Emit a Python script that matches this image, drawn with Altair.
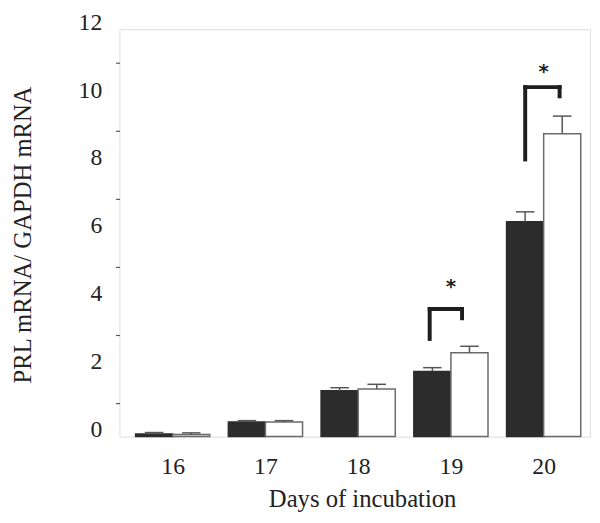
import altair as alt
import pandas as pd

# ---- data ----
days = [16, 17, 18, 19, 20]
dark_mean = [0.08, 0.43, 1.35, 1.92, 6.33]
dark_upper = [0.12, 0.47, 1.44, 2.03, 6.62]
light_mean = [0.06, 0.43, 1.40, 2.47, 8.92]
light_upper = [0.11, 0.47, 1.54, 2.66, 9.44]

y_values = list(range(0, 13))

# significance brackets (x in days, y in axis units)
sig_day = [19, 20]
sig_left_x = [18.771, 19.801]
sig_right_x = [19.120, 20.172]
sig_top = [3.757, 10.293]
sig_left_low = [2.876, 8.164]
sig_right_low = [3.486, 10.023]
sig_star_y = [4.24, 10.55]
sig_text = ["*", "*"]

# ---- tables ----
BAR_W = 0.40
CAP_W = 0.10
rows = []
for i, d in enumerate(days):
    rows.append(dict(day=d, group="dark", mean=dark_mean[i], upper=dark_upper[i],
                     x0=d - BAR_W, x1=d, xc=d - BAR_W / 2))
    rows.append(dict(day=d, group="light", mean=light_mean[i], upper=light_upper[i],
                     x0=d, x1=d + BAR_W, xc=d + BAR_W / 2))
df = pd.DataFrame(rows)
df["cap0"] = df["xc"] - CAP_W
df["cap1"] = df["xc"] + CAP_W

segs = []
for i in range(len(sig_day)):
    segs.append(dict(x=sig_left_x[i], x2=sig_left_x[i], y=sig_left_low[i], y2=sig_top[i]))
    segs.append(dict(x=sig_left_x[i], x2=sig_right_x[i], y=sig_top[i], y2=sig_top[i]))
    segs.append(dict(x=sig_right_x[i], x2=sig_right_x[i], y=sig_right_low[i], y2=sig_top[i]))
seg_df = pd.DataFrame(segs)
star_df = pd.DataFrame(dict(day=sig_day, y=sig_star_y, text=sig_text))

FONT = "Liberation Serif"
TXT = "#222222"

xscale = alt.Scale(domain=[15.426, 20.5], nice=False, zero=False)
yscale = alt.Scale(domain=[0, 12], nice=False)

xaxis = alt.Axis(values=days, format="d", tickSize=0, domain=False, grid=False,
                 labelPadding=18, labelFont=FONT, labelFontSize=24, labelColor=TXT,
                 title="Days of incubation", titleFont=FONT, titleFontSize=25,
                 titleFontWeight="normal", titleColor=TXT, titleX=246, titleY=71,
                 titleBaseline="alphabetic", titleAlign="center")
yaxis = alt.Axis(values=y_values,
                 labelExpr="datum.value % 2 == 0 ? datum.label : ''",
                 tickOpacity={"condition": {"test": "datum.value % 2 == 1", "value": 1}, "value": 0},
                 tickSize=4, tickColor="#555555", tickWidth=1.2, domain=False, grid=False,
                 labelPadding=14, labelOffset=-7, labelFont=FONT, labelFontSize=24,
                 labelColor=TXT,
                 title="PRL mRNA/ GAPDH mRNA", titleFont=FONT, titleFontSize=25,
                 titleFontWeight="normal", titleColor=TXT, titleAngle=270,
                 titleX=-90, titleY=208, titleBaseline="alphabetic", titleAlign="center")

base = alt.Chart(df)

bars = base.mark_bar(strokeWidth=1.5).encode(
    x=alt.X("x0:Q", scale=xscale, axis=xaxis),
    x2="x1:Q",
    y=alt.Y("mean:Q", scale=yscale, axis=yaxis),
    y2=alt.datum(0),
    fill=alt.Fill("group:N", scale=alt.Scale(domain=["dark", "light"], range=["#2c2c2c", "#ffffff"]), legend=None),
    stroke=alt.Stroke("group:N", scale=alt.Scale(domain=["dark", "light"], range=["#2c2c2c", "#6a6a6a"]), legend=None),
)

err = base.mark_rule(color="#555555", strokeWidth=1.5).encode(
    x=alt.X("xc:Q", scale=xscale, axis=xaxis),
    y=alt.Y("mean:Q", scale=yscale, axis=yaxis),
    y2="upper:Q",
)
caps = base.mark_rule(color="#555555", strokeWidth=1.5).encode(
    x=alt.X("cap0:Q", scale=xscale, axis=xaxis),
    x2="cap1:Q",
    y=alt.Y("upper:Q", scale=yscale, axis=yaxis),
)

brackets = alt.Chart(seg_df).mark_rule(color="#1e1e1e", strokeWidth=4, strokeCap="square").encode(
    x=alt.X("x:Q", scale=xscale, axis=xaxis),
    x2="x2:Q",
    y=alt.Y("y:Q", scale=yscale, axis=yaxis),
    y2="y2:Q",
)

stars = alt.Chart(star_df).mark_text(font="DejaVu Sans", fontSize=20, fontWeight="bold",
                                     baseline="alphabetic", align="center", color="#1e1e1e").encode(
    x=alt.X("day:Q", scale=xscale, axis=xaxis),
    y=alt.Y("y:Q", scale=yscale, axis=yaxis),
    text="text:N",
)

chart = alt.layer(bars, err, caps, brackets, stars).properties(
    width=477, height=413,
    padding={"left": 113, "top": 18, "right": 2, "bottom": 76},
    autosize=alt.AutoSizeParams(type="none"),
).configure_view(stroke="#444444", strokeWidth=1.5).configure(background="white")

chart.save("out.html", embed_options={"renderer": "svg", "actions": False})
